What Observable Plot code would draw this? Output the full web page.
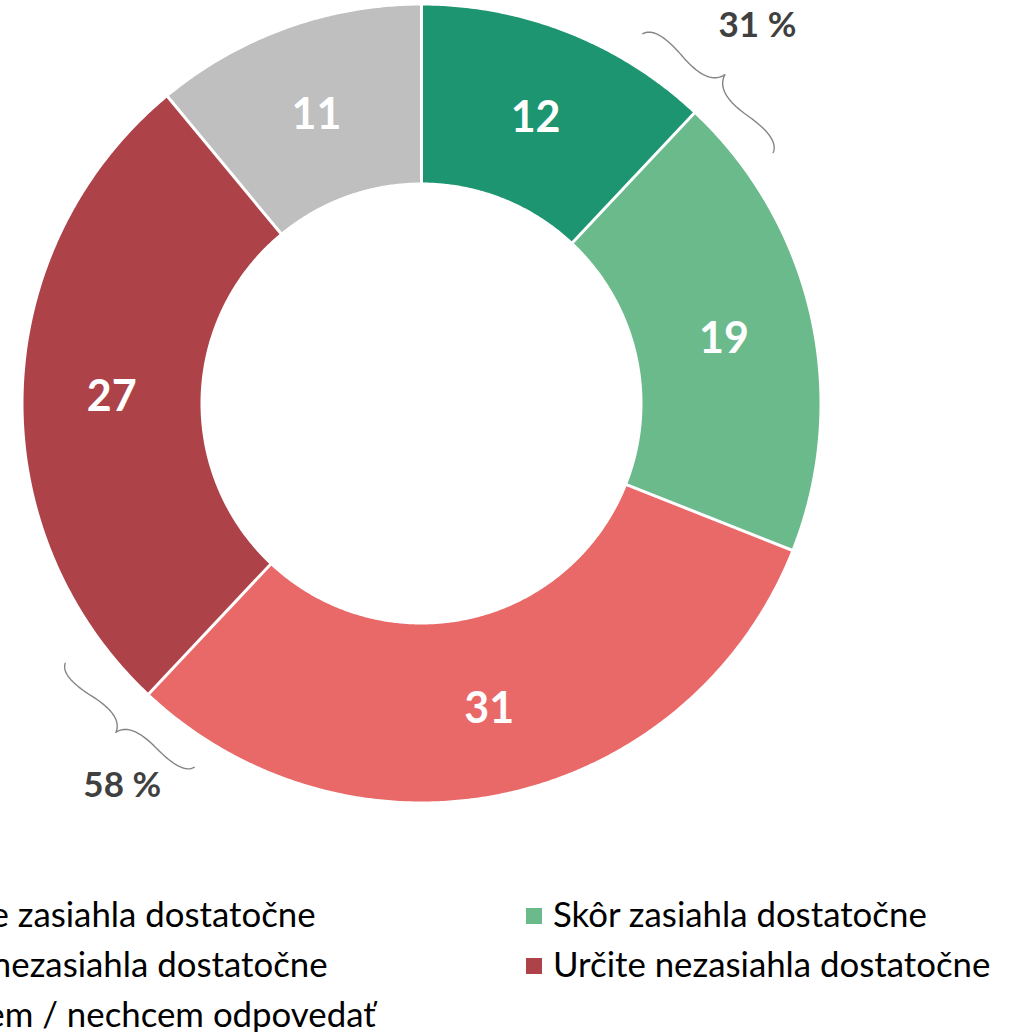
<!DOCTYPE html>
<html><head><meta charset="utf-8">
<script src="https://cdn.jsdelivr.net/npm/d3@7"></script>
<script src="https://cdn.jsdelivr.net/npm/@observablehq/plot@0.6"></script>
<style>
body{margin:0;background:#fff;overflow:hidden}
#wrap{position:relative;width:1009px;height:1032px;overflow:hidden;font-family:Lato,"Open Sans",sans-serif}
#legend{position:absolute;left:-111px;top:889px;display:grid;grid-template-columns:637px 637px}
.item{display:flex;align-items:center;height:50px;line-height:50px;font-size:34.8px;color:#000;white-space:nowrap}
.sw{width:16px;height:16px;margin-right:11px;flex:none;position:relative;top:2px}
</style></head>
<body><div id="wrap"></div>
<script>
// ---- data ----
const categories = ["Určite zasiahla dostatočne","Skôr zasiahla dostatočne","Skôr nezasiahla dostatočne","Určite nezasiahla dostatočne","Neviem / nechcem odpovedať"];
const values = [12, 19, 31, 27, 11];
const colors = ["#1C9570", "#6BBA8C", "#E96968", "#AD4249", "#BFBFBF"];
// grouped annotations (braces): members, brace span (deg clockwise from top), label angle
const groupMembers = [[0, 1], [2, 3]];
const braceSpans = [[30.9, 54.5], [233.9, 212.0]];
const braceRadii = [[431, 432], [441, 429]];
const labelAngles = [41.6, 218.1];
const labelRadii = [506, 485];

// ---- geometry ----
const W = 1009, H = 860, CX = 421, CY = 403;
const R_OUT = 398, R_IN = 221, R_LABEL = 310;
const total = d3.sum(values);
const rad = a => a * Math.PI / 180;
const pol = (a, r) => ({x: r * Math.sin(rad(a)), y: r * Math.cos(rad(a))});

let acc = 0;
const slices = values.map((v, i) => {
  const a0 = acc / total * 360; acc += v; const a1 = acc / total * 360;
  return {cat: categories[i], value: v, color: colors[i], a0, a1, mid: (a0 + a1) / 2};
});
const polys = slices.map(s => {
  const n = Math.max(4, Math.ceil((s.a1 - s.a0) / 0.4));
  const pts = [];
  for (let k = 0; k <= n; k++) pts.push(pol(s.a0 + (s.a1 - s.a0) * k / n, R_OUT));
  for (let k = n; k >= 0; k--) pts.push(pol(s.a0 + (s.a1 - s.a0) * k / n, R_IN));
  pts.push(pts[0]);
  return pts;
});
const boundaries = slices.map(s => ({a: s.a0}));
const labels = slices.map(s => ({...pol(s.mid, R_LABEL), text: String(s.value)}));

// braces
function bracePoints(p1, p2, w, q, g) {
  const dx = p2.x - p1.x, dy = p2.y - p1.y, L = Math.hypot(dx, dy);
  const ux = dx / L, uy = dy / L;
  let nx = -uy, ny = ux;
  const mx = (p1.x + p2.x) / 2, my = (p1.y + p2.y) / 2;
  if (nx * mx + ny * my < 0) { nx = -nx; ny = -ny; }
  const P = (s, t) => ({x: p1.x + ux * s + nx * t, y: p1.y + uy * s + ny * t});
  const quad = (a, c, b, out) => { for (let k = 0; k <= 20; k++) { const t = k / 20, m = 1 - t;
    out.push({x: m*m*a.x + 2*m*t*c.x + t*t*b.x, y: m*m*a.y + 2*m*t*c.y + t*t*b.y, g}); } };
  const half = (s0, dir) => {
    const out = [];
    const A = P(s0, 0), C1 = P(s0 + dir * L * 0.03, q * w), Q1 = P(s0 + dir * L / 4, (1 - q) * w);
    const C2 = {x: 2 * Q1.x - C1.x, y: 2 * Q1.y - C1.y}, T = P(L / 2, w);
    quad(A, C1, Q1, out); quad(Q1, C2, T, out);
    return out;
  };
  const h1 = half(0, 1), h2 = half(L, -1).reverse();
  return h1.concat(h2);
}
const braceData = [];
const groupLabels = [];
groupMembers.forEach((m, i) => {
  const sum = d3.sum(m, j => values[j]);
  const p1 = pol(braceSpans[i][0], braceRadii[i][0]), p2 = pol(braceSpans[i][1], braceRadii[i][1]);
  braceData.push(...bracePoints(p1, p2, i === 0 ? 25 : 22, 0.6, i));
  groupLabels.push({...pol(labelAngles[i], labelRadii[i]), text: sum + " %"});
});

const chart = Plot.plot({
  width: W, height: H,
  margin: 0,
  x: {domain: [-CX, W - CX], axis: null},
  y: {domain: [CY - H, CY], axis: null},
  style: {fontFamily: "Lato, 'Open Sans', sans-serif", background: "white"},
  marks: [
    ...polys.map((p, i) => Plot.line(p, {x: "x", y: "y", fill: colors[i], stroke: "none", curve: "linear"})),
    Plot.link(boundaries, {
      x1: d => pol(d.a, R_IN - 4).x, y1: d => pol(d.a, R_IN - 4).y,
      x2: d => pol(d.a, R_OUT + 4).x, y2: d => pol(d.a, R_OUT + 4).y,
      stroke: "white", strokeWidth: 3
    }),
    Plot.text(labels, {x: "x", y: "y", text: "text", fill: "white", fontSize: 43, fontWeight: "bold", dy: 3}),
    Plot.line(braceData, {x: "x", y: "y", z: "g", stroke: "#858585", strokeWidth: 1.4, curve: "linear"}),
    Plot.text(groupLabels, {x: "x", y: "y", text: "text", fill: "#404040", fontSize: 35, fontWeight: "bold", dy: 1})
  ]
});

const wrap = document.getElementById("wrap");
wrap.appendChild(chart);
const legend = document.createElement("div");
legend.id = "legend";
categories.forEach((c, i) => {
  const it = document.createElement("div"); it.className = "item";
  const sw = document.createElement("span"); sw.className = "sw"; sw.style.background = colors[i];
  const tx = document.createElement("span"); tx.textContent = c;
  it.appendChild(sw); it.appendChild(tx); legend.appendChild(it);
});
wrap.appendChild(legend);
</script>
</body></html>
